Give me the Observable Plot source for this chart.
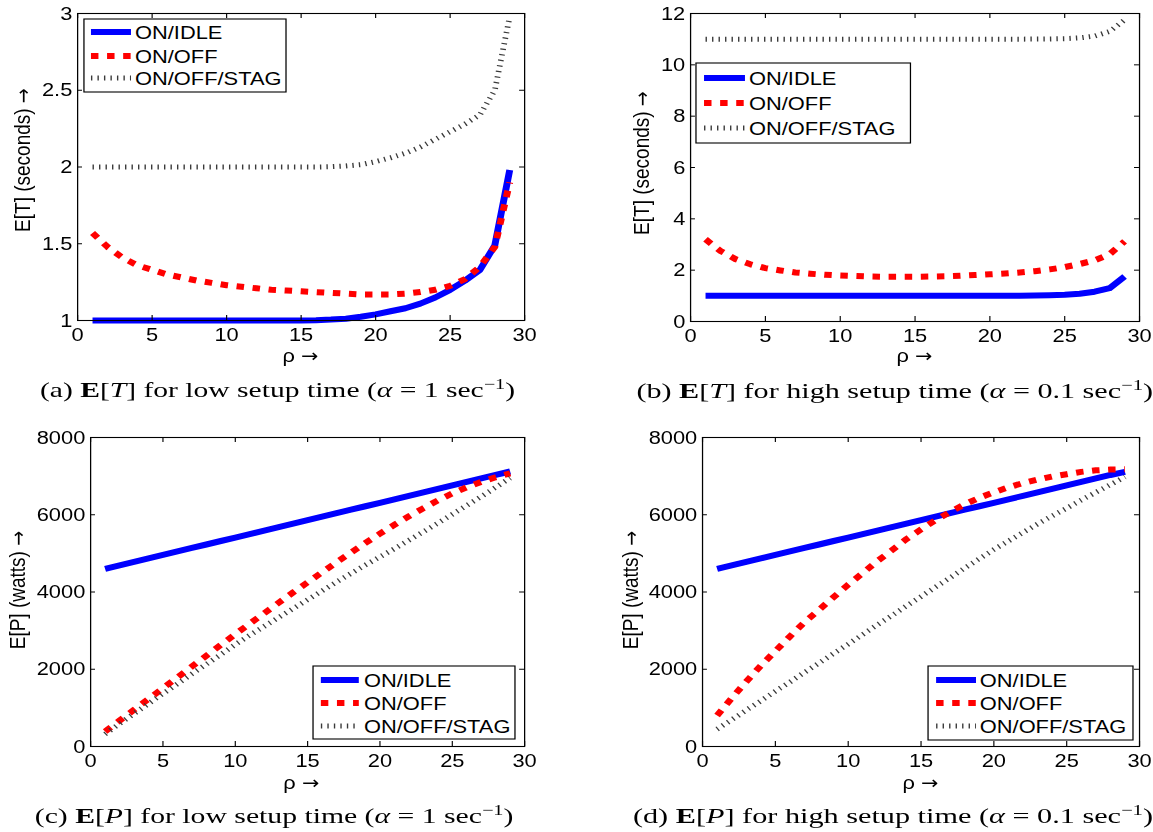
<!DOCTYPE html>
<html><head><meta charset="utf-8">
<script src="https://cdn.jsdelivr.net/npm/d3@7"></script>
<script src="https://cdn.jsdelivr.net/npm/@observablehq/plot@0.6"></script>
<style>
html,body{margin:0;padding:0;background:#fff;overflow:hidden;width:1153px;height:832px;}
#root{position:absolute;left:0;top:0;width:1003px;height:832px;transform-origin:0 0;transform:scaleX(1.15);}
#overlay{position:absolute;left:0;top:0;pointer-events:none;}
</style></head><body><div id="root"></div>
<script>
// ---------- data ----------
const rho = [1,2,3,4,5,6,7,8,9,10,11,12,13,14,15,16,17,18,19,20,21,22,23,24,25,26,27,28,29];
const xTicks = [0,5,10,15,20,25,30];
const yTicksTLow = [1,1.5,2,2.5,3];
const yTicksTHigh = [0,2,4,6,8,10,12];
const yTicksP = [0,2000,4000,6000,8000];
const seriesNames = ["ON/IDLE","ON/OFF","ON/OFF/STAG"];

// (a) E[T], alpha = 1
const aIdle = [1.00,1.00,1.00,1.00,1.00,1.00,1.00,1.00,1.00,1.00,1.00,1.00,1.00,1.00,1.00,1.002,1.006,1.012,1.024,1.04,1.06,1.08,1.11,1.15,1.20,1.26,1.33,1.49,1.98];
const aOff  = [1.57,1.48,1.41,1.36,1.33,1.30,1.28,1.26,1.245,1.23,1.22,1.21,1.20,1.195,1.19,1.185,1.18,1.175,1.17,1.17,1.17,1.175,1.185,1.20,1.225,1.27,1.35,1.48,1.90];
const aStag = [2,2,2,2,2,2,2,2,2,2,2,2,2,2,2,2,2.002,2.007,2.015,2.035,2.06,2.09,2.13,2.18,2.23,2.28,2.34,2.50,2.98];
// (b) E[T], alpha = 0.1
const bIdle = [1,1,1,1,1,1,1,1,1,1,1,1,1,1,1,1,1,1,1,1,1,1.005,1.01,1.02,1.04,1.08,1.16,1.30,1.75];
const bOff  = [3.2,2.75,2.43,2.23,2.08,1.99,1.91,1.86,1.82,1.79,1.77,1.75,1.74,1.74,1.74,1.75,1.76,1.78,1.81,1.84,1.87,1.91,1.96,2.03,2.12,2.24,2.38,2.62,3.12];
const bStag = [11,11,11,11,11,11,11,11,11,11,11,11,11,11,11,11,11,11,11,11,11,11,11.005,11.01,11.02,11.05,11.12,11.3,11.75];
// (c) E[P], alpha = 1
const cIdle = [4600,4690,4780,4870,4960,5050,5140,5230,5320,5410,5500,5590,5680,5770,5860,5950,6040,6130,6220,6310,6400,6490,6580,6670,6760,6850,6940,7030,7120];
const cOff  = [390,670,950,1230,1510,1790,2070,2350,2630,2910,3180,3450,3720,3990,4250,4510,4770,5020,5270,5510,5740,5960,6170,6370,6550,6710,6850,6970,7070];
const cStag = [320,590,850,1110,1370,1620,1880,2130,2380,2640,2880,3110,3340,3570,3800,4030,4260,4480,4700,4910,5120,5340,5560,5780,6010,6240,6470,6710,6950];
// (d) E[P], alpha = 0.1
const dIdle = [4600,4690,4780,4870,4960,5050,5140,5230,5320,5410,5500,5590,5680,5770,5860,5950,6040,6130,6220,6310,6400,6490,6580,6670,6760,6850,6940,7030,7110];
const dOff  = [800,1250,1680,2090,2470,2850,3220,3540,3870,4190,4490,4800,5080,5370,5620,5860,6070,6270,6440,6580,6710,6820,6910,6990,7050,7110,7150,7170,7180];
const dStag = [450,690,940,1180,1430,1670,1920,2160,2410,2650,2900,3150,3390,3640,3880,4130,4370,4620,4860,5100,5320,5540,5760,5970,6170,6380,6580,6780,6980];

// ---------- styles ----------
const lineStyles = [
  {stroke:"#0000ff", strokeWidth:6},
  {stroke:"#ff0000", strokeWidth:6, strokeDasharray:"6.5 7.5"},
  {stroke:"#3a3a3a", strokeWidth:5, strokeDasharray:"1.2 4.45"}
];
const root = document.getElementById("root");
const FONT = "'Liberation Sans', Arial, Helvetica, sans-serif";
const ARROW_FONT = "'DejaVu Sans', sans-serif";

function panel(o){
  const [fl, ft, fr, fb] = o.frame;
  const innerW = fr - fl, innerH = fb - ft;
  const tlx = 4.3, tly = 5;
  const marks = [
    ...o.series.map((s,i) => Plot.line(rho.map((r,j)=>({rho:r, v:s[j], name:seriesNames[i]})),
      {x:"rho", y:"v", ...lineStyles[i], strokeLinejoin:"round", strokeLinecap:"butt"})),
    Plot.frame({stroke:"black", strokeWidth:1.1}),
    Plot.tickX(xTicks, {x:d=>d, insetTop: innerH - tly, stroke:"black"}),
    Plot.tickX(xTicks, {x:d=>d, insetBottom: innerH - tly, stroke:"black"}),
    Plot.tickY(o.yTicks, {y:d=>d, insetRight: innerW - tlx, stroke:"black"}),
    Plot.tickY(o.yTicks, {y:d=>d, insetLeft: innerW - tlx, stroke:"black"}),
    Plot.axisX(xTicks, {tickSize:0, tickPadding:7, label:null, tickFormat:d=>String(d)}),
    Plot.axisY(o.yTicks, {tickSize:0, tickPadding:4.6, label:null, tickFormat:d=>String(d)})
  ];
  const svg = Plot.plot({
    width:o.width, height:o.height,
    marginLeft: fl - o.left, marginTop: ft - o.top,
    marginRight: o.left + o.width - fr, marginBottom: o.top + o.height - fb,
    x:{domain:[0,30]}, y:{domain:o.yDomain},
    style:{fontFamily:FONT, fontSize:"19px", color:"black", background:"transparent", overflow:"visible"},
    marks
  });
  svg.style.position = "absolute";
  svg.style.left = o.left + "px";
  svg.style.top = o.top + "px";
  root.append(svg);
}

panel({left:0, top:0, width:480, height:350, frame:[67,13,455.7,320], yDomain:[1,3], yTicks:yTicksTLow, series:[aIdle,aOff,aStag]});
panel({left:535, top:0, width:468, height:350, frame:[600,13,990.4,321], yDomain:[0,12], yTicks:yTicksTHigh, series:[bIdle,bOff,bStag]});
panel({left:0, top:420, width:480, height:356, frame:[78.3,437,455.7,746], yDomain:[0,8000], yTicks:yTicksP, series:[cIdle,cOff,cStag]});
panel({left:535, top:420, width:468, height:356, frame:[610.4,437,990.4,746], yDomain:[0,8000], yTicks:yTicksP, series:[dIdle,dOff,dStag]});

// ---------- overlay: axis titles, legends, captions ----------
const ov = d3.select(root).append("svg").attr("id","overlay").attr("width",1003).attr("height",832)
  .style("font-family", FONT).style("font-size","19px");

function withArrow(t, label){
  t.append("tspan").text(label + " ");
  t.append("tspan").style("font-family", ARROW_FONT).style("font-size","18px").text("→");
}
// y titles (rotated)
[[25.9,160,"E[T] (seconds)"],[564.2,163,"E[T] (seconds)"],[21.6,590,"E[P] (watts)"],[554.6,590,"E[P] (watts)"]]
  .forEach(([x,y,t]) => withArrow(ov.append("text").attr("transform",`translate(${x},${y}) rotate(-90)`).attr("text-anchor","middle"), t));
// x titles
[[261.3,362],[795.2,362],[262,789],[800.4,789]]
  .forEach(([x,y]) => withArrow(ov.append("text").attr("x",x).attr("y",y).attr("text-anchor","middle"), "ρ"));

// legends
const legends = [
  {x:73.0, y:19, w:175.7, h:73, rows:[13,37,59], l1:6.1, l2:40.9, tx:44.4},
  {x:605.2, y:63, w:186.5, h:80, rows:[15,40,65], l1:7, l2:42.6, tx:46.1},
  {x:272.2, y:666, w:175.6, h:73, rows:[14,37,60], l1:6.8, l2:39.8, tx:44.3},
  {x:807, y:666, w:178.2, h:74, rows:[14,37,60], l1:7, l2:41.7, tx:45}
];
legends.forEach(L => {
  const g = ov.append("g").attr("transform",`translate(${L.x},${L.y})`);
  g.append("rect").attr("width",L.w).attr("height",L.h).attr("fill","white").attr("stroke","black").attr("stroke-width",1.1);
  seriesNames.forEach((n,i) => {
    const s = lineStyles[i];
    g.append("line").attr("x1",L.l1).attr("x2",L.l2).attr("y1",L.rows[i]).attr("y2",L.rows[i])
      .attr("stroke",s.stroke).attr("stroke-width",s.strokeWidth).attr("stroke-dasharray",s.strokeDasharray||null);
    g.append("text").attr("x",L.tx).attr("y",L.rows[i]+6.8).text(n);
  });
});

// captions
const captions = [
  {cx:241.3, y:397, w:413, lab:"(a) ", v:"T", set:"low", a:"1"},
  {cx:778, y:398, w:449, lab:"(b) ", v:"T", set:"high", a:"0.1"},
  {cx:238.3, y:823, w:416, lab:"(c) ", v:"P", set:"low", a:"1"},
  {cx:776.5, y:823, w:452, lab:"(d) ", v:"P", set:"high", a:"0.1"}
];
captions.forEach(c => {
  const t = ov.append("text").attr("x",c.cx).attr("y",c.y).attr("text-anchor","middle")
    .style("font-family","'Liberation Serif','Times New Roman',serif").style("font-size","22px");
  t.append("tspan").text(c.lab);
  t.append("tspan").attr("font-weight","bold").text("E");
  t.append("tspan").text("[");
  t.append("tspan").attr("font-style","italic").text(c.v);
  t.append("tspan").text(`] for ${c.set} setup time (`);
  t.append("tspan").attr("font-style","italic").text("α");
  t.append("tspan").text(` = ${c.a} sec`);
  t.append("tspan").attr("dy",-8).style("font-size","15px").text("−1");
  t.append("tspan").attr("dy",8).text(")");
  const w = t.node().getBBox().width;
  const k = c.w / w;
  t.attr("transform",`translate(${c.cx},0) scale(${k},1) translate(${-c.cx},0)`);
});
</script></body></html>
